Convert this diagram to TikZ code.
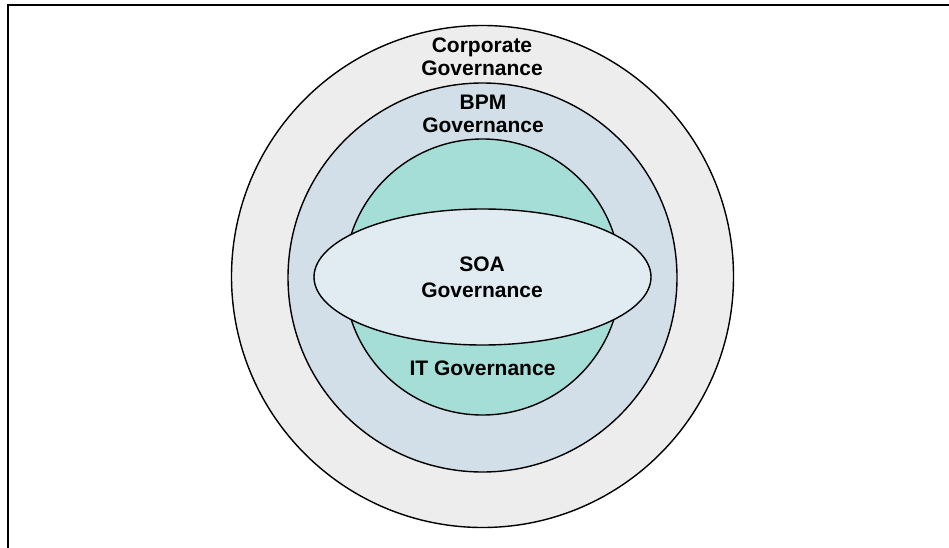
\documentclass[tikz,border=0pt]{standalone}
\usepackage{fontspec}
\setmainfont{Liberation Sans}
\usetikzlibrary{shapes.geometric}
\definecolor{corpgray}{HTML}{EDEDED}
\definecolor{bpmblue}{HTML}{D2DFE8}
\definecolor{itgreen}{HTML}{A5DDD7}
\definecolor{soablue}{HTML}{E1ECF2}
\begin{document}
\begin{tikzpicture}[x=1pt,y=-1pt,
  ring/.style={circle,draw=black,line width=1.4pt,inner sep=0pt},
  lbl/.style={font=\bfseries\fontsize{21}{23}\selectfont,align=center,inner sep=0pt,text=black}]
\clip (0,0) rectangle (949,548);
\fill[white] (0,0) rectangle (949,548);
\draw[line width=2pt] (8,560) -- (8,5) -- (960,5);
\node[ring,fill=corpgray,minimum size=502pt] (corp) at (482.5,276.5) {};
\node[ring,fill=bpmblue,minimum size=389pt] (bpm) at (482.5,277.5) {};
\node[ring,fill=itgreen,minimum size=276pt] (it) at (482.5,277) {};
\node[ellipse,draw=black,line width=1.4pt,fill=soablue,minimum width=337pt,minimum height=136pt,inner sep=0pt] (soa) at (482.5,277) {};
\node[lbl] (corptext) at (482,57) {Corporate\\Governance};
\node[lbl] (bpmtext) at (483,114) {BPM\\Governance};
\node[lbl,font=\bfseries\fontsize{21}{26}\selectfont] (soatext) at (482,277) {SOA\\Governance};
\node[lbl] (ittext) at (482.5,368) {IT Governance};
\end{tikzpicture}
\end{document}
